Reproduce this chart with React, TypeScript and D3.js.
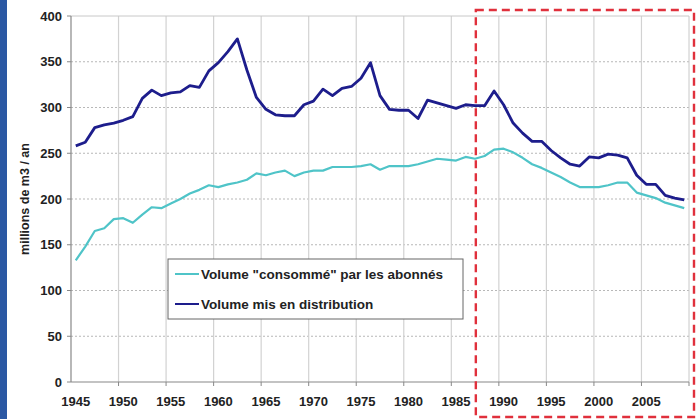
import { useMemo } from "react";
import * as d3 from "d3";

// years shown on the category axis
const years = d3.range(1945, 2010);

// Volume "consommé" par les abonnés (millions de m3 / an)
const consumed = [
  133, 148, 165, 168, 178, 179, 174, 183, 191, 190,
  195, 200, 206, 210, 215, 213, 216, 218, 221, 228,
  226, 229, 231, 225, 229, 231, 231, 235, 235, 235,
  236, 238, 232, 236, 236, 236, 238, 241, 244, 243,
  242, 246, 244, 247, 254, 255, 251, 245, 238, 234,
  229, 224, 218, 213, 213, 213, 215, 218, 218, 207,
  204, 201, 196, 193, 190,
];

// Volume mis en distribution (millions de m3 / an)
const distributed = [
  258, 262, 278, 281, 283, 286, 290, 310, 319, 313,
  316, 317, 324, 322, 340, 349, 361, 375, 341, 311,
  298, 292, 291, 291, 303, 307, 320, 313, 321, 323,
  332, 349, 313, 298, 297, 297, 288, 308, 305, 302,
  299, 303, 302, 302, 318, 303, 283, 272, 263, 263,
  253, 245, 238, 236, 246, 245, 249, 248, 245, 226,
  216, 216, 204, 201, 199,
];

const yTicks = [0, 50, 100, 150, 200, 250, 300, 350, 400];
const xLabelYears = [1945, 1950, 1955, 1960, 1965, 1970, 1975, 1980, 1985, 1990, 1995, 2000, 2005];
const highlightFrom = 1988;

const series = [
  { name: 'Volume "consommé" par les abonnés', values: consumed, color: "#4fc4c8", width: 2.2 },
  { name: "Volume mis en distribution", values: distributed, color: "#1d1d8c", width: 2.8 },
];

const W = 696;
const H = 419;
const FONT = "'Liberation Sans', Arial, sans-serif";

export default function App() {
  const left = 71, right = 689, top = 16, bottom = 382;

  const x = useMemo(
    () => d3.scaleBand<number>().domain(years).range([left, right]).padding(0),
    []
  );
  const y = useMemo(() => d3.scaleLinear().domain([0, 400]).range([bottom, top]), []);
  const cx = (yr: number) => (x(yr) ?? 0) + x.bandwidth() / 2;

  const line = (vals: number[]) =>
    d3
      .line<number>()
      .x((_, i) => cx(years[i]))
      .y((v) => y(v))(vals) ?? "";

  const gridYears = years.filter((yr) => yr % 5 === 0 && yr !== 1945);

  return (
    <svg
      width={W}
      height={H}
      style={{ position: "fixed", left: 0, top: 0, background: "#fff" }}
      fontFamily={FONT}
    >
      <rect x={0} y={0} width={7} height={H} fill="#2b58a3" />

      {/* horizontal dotted gridlines */}
      {yTicks.slice(1, -1).map((t) => (
        <line key={t} x1={left} x2={right} y1={y(t)} y2={y(t)} stroke="#b8b8b8" strokeWidth={1.2} strokeDasharray="2,2" />
      ))}
      {/* vertical gridlines on 5-year boundaries */}
      {gridYears.map((yr) => (
        <line key={yr} x1={x(yr)} x2={x(yr)} y1={top} y2={bottom} stroke="#d2d2d2" strokeWidth={1.2} />
      ))}
      <line x1={left} x2={right} y1={top} y2={top} stroke="#c8c8c8" strokeWidth={1} />
      <line x1={right} x2={right} y1={top} y2={bottom} stroke="#c8c8c8" strokeWidth={1} />

      {/* axes */}
      <line x1={left} x2={left} y1={top} y2={bottom} stroke="#888" strokeWidth={1.2} />
      <line x1={left} x2={right} y1={bottom} y2={bottom} stroke="#888" strokeWidth={1.2} />
      {yTicks.map((t) => (
        <g key={t}>
          <line x1={left - 4} x2={left} y1={y(t)} y2={y(t)} stroke="#888" />
          <text x={62} y={y(t)} dy="0.35em" textAnchor="end" fontSize={13} fontWeight="bold" fill="#222">
            {t}
          </text>
        </g>
      ))}
      {[...gridYears.map((yr) => x(yr) ?? 0), right].map((px, i) => (
        <line key={i} x1={px} x2={px} y1={bottom} y2={bottom + 4} stroke="#888" />
      ))}
      {xLabelYears.map((yr) => (
        <text key={yr} x={cx(yr)} y={406} textAnchor="middle" fontSize={13} fontWeight="bold" fill="#222">
          {yr}
        </text>
      ))}
      <text
        transform={`translate(29,199) rotate(-90)`}
        textAnchor="middle"
        fontSize={12.5}
        fontWeight="bold"
        fill="#222"
      >
        millions de m3 / an
      </text>

      {/* series */}
      {series.map((s) => (
        <path key={s.name} d={line(s.values)} fill="none" stroke={s.color} strokeWidth={s.width} strokeLinejoin="round" />
      ))}

      {/* legend */}
      <rect x={168} y={259} width={295} height={60} fill="#fff" stroke="#666" strokeWidth={1} />
      {series.map((s, i) => (
        <g key={s.name} transform={`translate(0,${274 + i * 30})`}>
          <line x1={175} x2={199} y1={0} y2={0} stroke={s.color} strokeWidth={2} />
          <text x={201} y={0} dy="0.35em" fontSize={13.5} fontWeight="bold" fill="#222">
            {s.name}
          </text>
        </g>
      ))}

      {/* highlighted period */}
      <rect
        x={(x(highlightFrom) ?? 0) - 4}
        y={10}
        width={694 - (x(highlightFrom) ?? 0) + 4}
        height={407}
        fill="none"
        stroke="#e0303c"
        strokeWidth={2.4}
        strokeDasharray="8,5"
      />
    </svg>
  );
}
